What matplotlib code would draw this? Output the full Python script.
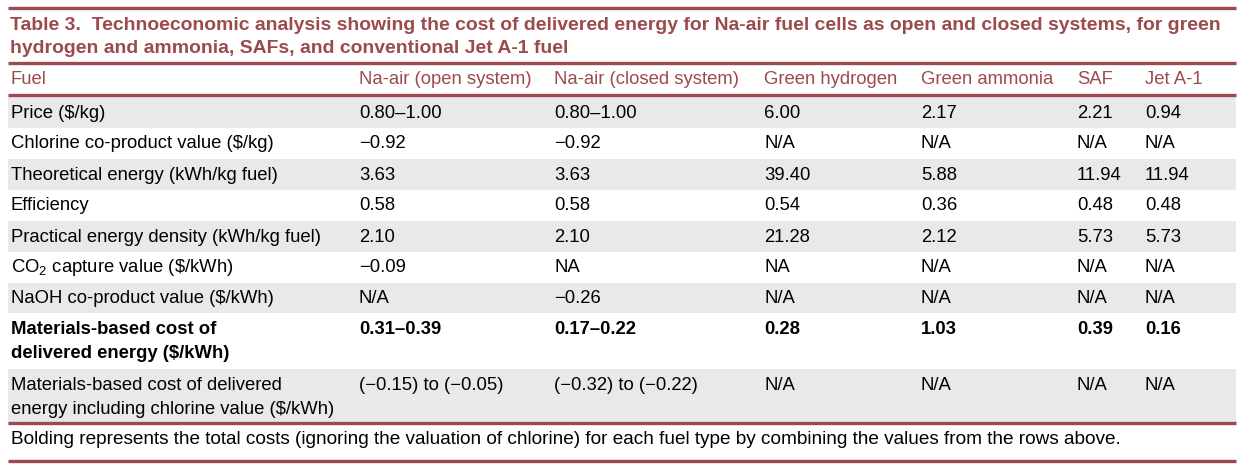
import matplotlib.pyplot as plt
from matplotlib.patches import Rectangle

plt.rcParams['font.family'] = ['Liberation Sans', 'DejaVu Sans']
plt.rcParams['mathtext.fontset'] = 'custom'
plt.rcParams['mathtext.rm'] = 'Liberation Sans'

title_lines = [
    "Table 3.  Technoeconomic analysis showing the cost of delivered energy for Na-air fuel cells as open and closed systems, for green",
    "hydrogen and ammonia, SAFs, and conventional Jet A-1 fuel",
]
header = ["Fuel", "Na-air (open system)", "Na-air (closed system)", "Green hydrogen",
          "Green ammonia", "SAF", "Jet A-1"]
row_labels = [
    "Price ($/kg)",
    "Chlorine co-product value ($/kg)",
    "Theoretical energy (kWh/kg fuel)",
    "Efficiency",
    "Practical energy density (kWh/kg fuel)",
    r"CO$_\mathregular{2}$ capture value (\$/kWh)",
    "NaOH co-product value ($/kWh)",
    "Materials-based cost of\ndelivered energy ($/kWh)",
    "Materials-based cost of delivered\nenergy including chlorine value ($/kWh)",
]
na_open = ["0.80–1.00", "−0.92", "3.63", "0.58", "2.10", "−0.09", "N/A", "0.31–0.39", "(−0.15) to (−0.05)"]
na_closed = ["0.80–1.00", "−0.92", "3.63", "0.58", "2.10", "NA", "−0.26", "0.17–0.22", "(−0.32) to (−0.22)"]
green_h2 = ["6.00", "N/A", "39.40", "0.54", "21.28", "NA", "N/A", "0.28", "N/A"]
green_nh3 = ["2.17", "N/A", "5.88", "0.36", "2.12", "N/A", "N/A", "1.03", "N/A"]
saf = ["2.21", "N/A", "11.94", "0.48", "5.73", "N/A", "N/A", "0.39", "N/A"]
jet_a1 = ["0.94", "N/A", "11.94", "0.48", "5.73", "N/A", "N/A", "0.16", "N/A"]
bold_row = 7
footnote = ("Bolding represents the total costs (ignoring the valuation of chlorine) for each fuel type "
            "by combining the values from the rows above.")

columns = [row_labels, na_open, na_closed, green_h2, green_nh3, saf, jet_a1]

maroon = '#9b4b4e'
grey = '#e9e9e9'
fs = 13.3

fig = plt.figure(figsize=(12.5, 4.67), dpi=100)
ax = fig.add_axes([0, 0, 1, 1])
ax.set_xlim(0, 1250)
ax.set_ylim(467, 0)
ax.axis('off')

x0, x1 = 8, 1236
col_x = [11, 359, 554, 764, 921, 1077, 1145]
row_h = [31, 31, 31, 31, 31, 31, 30, 56, 56]


def rule(y):
    ax.plot([x0, x1], [y, y], color=maroon, lw=2.4, solid_capstyle='butt')


rule(8)
for i, t in enumerate(title_lines):
    ax.text(10, 25 + i * 23.5, t, fontsize=13.95, fontweight='bold', color=maroon,
            va='center', ha='left')
rule(63)
for x, h in zip(col_x, header):
    ax.text(x, 80, h, fontsize=fs, color=maroon, va='center', ha='left')
rule(95)

top = 96.5
for r, h in enumerate(row_h):
    if r % 2 == 0:
        ax.add_patch(Rectangle((x0, top), x1 - x0, h, color=grey, lw=0))
    weight = 'bold' if r == bold_row else 'normal'
    for x, col in zip(col_x, columns):
        lines = col[r].split('\n')
        for k, line in enumerate(lines):
            if len(lines) == 1 and h < 40:
                y = top + h / 2 + 1
            else:
                y = top + 17.5 + k * 23
            ax.text(x, y, line, fontsize=fs, fontweight=weight, color='black',
                    va='center', ha='left', parse_math=('CO$' in line))
    top += h

rule(423)
ax.text(11, 440, footnote, fontsize=13.7, color='black', va='center', ha='left', parse_math=False)
rule(461)

fig.savefig('out.png', dpi=100)
